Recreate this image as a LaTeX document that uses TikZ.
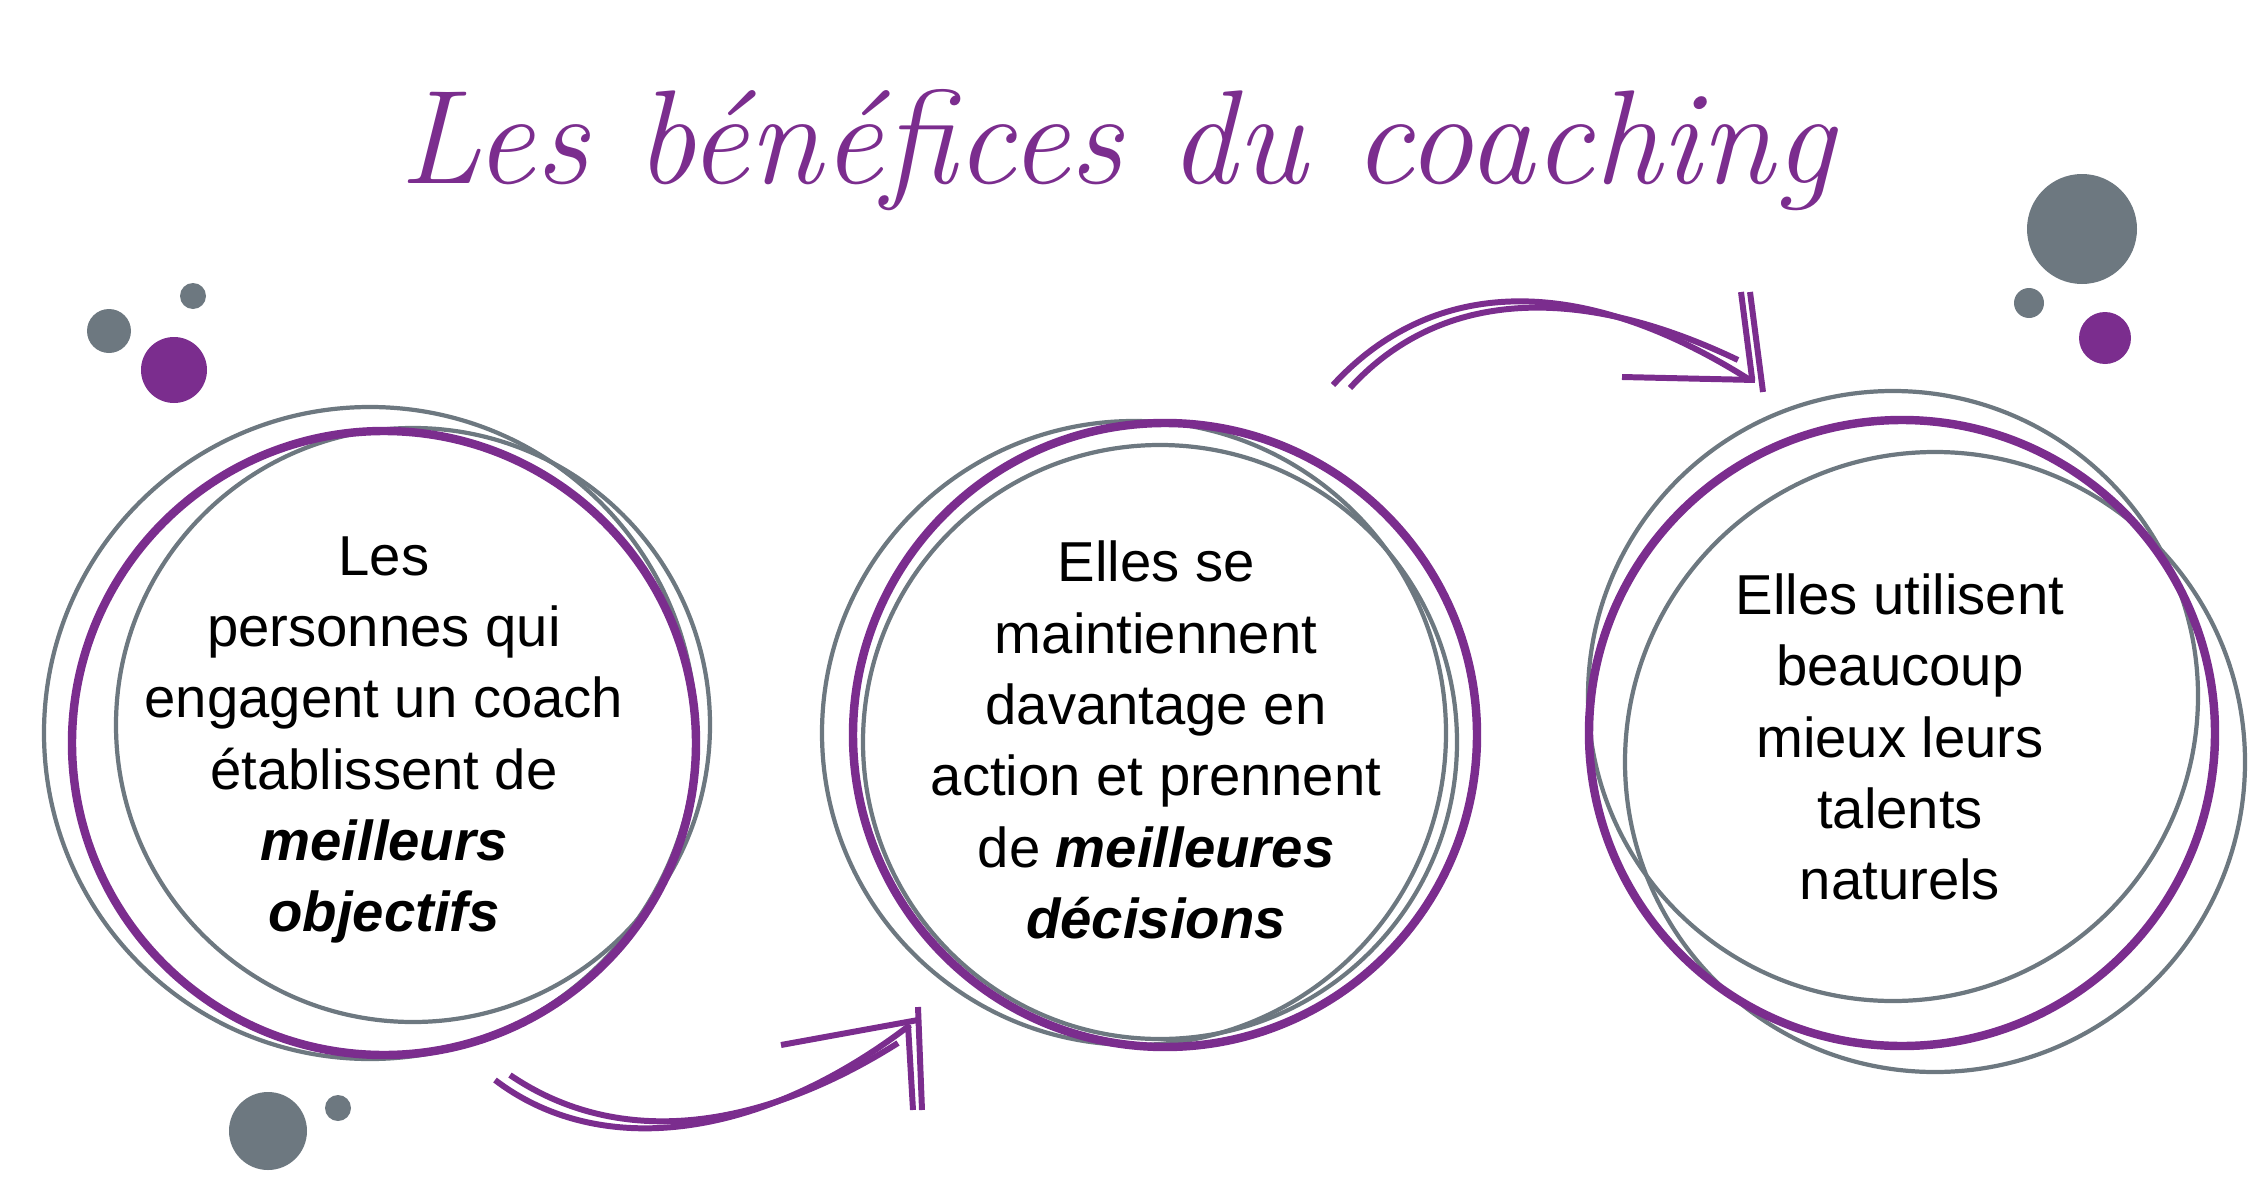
\documentclass[tikz,border=0pt]{standalone}
\usepackage{fontspec}
\setmainfont{Liberation Sans}
\newfontfamily\titlefont{Latin Modern Roman}
\definecolor{pur}{HTML}{7B2D8E}
\definecolor{gry}{HTML}{6D7880}
\begin{document}
\begin{tikzpicture}[x=0.01cm,y=-0.01cm,
  pc/.style={draw=pur,line width=2.4pt},
  gc/.style={draw=gry,line width=1.2pt},
  arr/.style={draw=pur,line width=1.7pt},
  txt/.style={align=center,font=\fontsize{16}{20.3}\selectfont},
  gdot/.style={fill=gry},pdot/.style={fill=pur}]
\useasboundingbox (0,0) rectangle (2263,1200);
\node[font=\titlefont\itshape\fontsize{38}{44}\selectfont,text=pur] (title) at (1117,150) {Les bénéfices du coaching};
% left
\draw[gc] (370,733) circle (326);
\draw[gc] (413,725) circle (297);
\draw[pc] (384,743) circle (312);
\node[txt] (t1) at (384,740) {Les\\personnes qui\\engagent un coach\\établissent de\\\textbf{\itshape meilleurs}\\\textbf{\itshape objectifs}};
% middle
\draw[gc] (1134,733) circle (312);
\draw[gc] (1160,742) circle (297);
\draw[pc] (1165,735) circle (312);
\node[txt] (t2) at (1156,740) {Elles se\\maintiennent\\davantage en\\action et prennent\\de \textbf{\itshape meilleures}\\\textbf{\itshape décisions}};
% right
\draw[gc] (1893,696) circle (305);
\draw[gc] (1935,762) circle (310);
\draw[pc] (1902,733) circle (313);
\node[txt] (t3) at (1900,737) {Elles utilisent\\beaucoup\\mieux leurs\\talents\\naturels};
% dots
\fill[gdot] (109,331) circle (22);
\fill[gdot] (193,296) circle (13);
\fill[pdot] (174,370) circle (33);
\fill[gdot] (268,1131) circle (39);
\fill[gdot] (338,1108) circle (13);
\fill[gdot] (2082,229) circle (55);
\fill[gdot] (2029,303) circle (15);
\fill[pdot] (2105,338) circle (26);
% bottom arrow
\draw[arr] (495,1080) .. controls (600,1160) and (760,1140) .. (910,1025);
\draw[arr] (510,1075) .. controls (620,1150) and (760,1130) .. (898,1043);
\draw[arr] (781,1045) -- (918,1020);
\draw[arr] (918,1007) -- (922,1110);
\draw[arr] (908,1025) -- (913,1110);
% top arrow
\draw[arr] (1333,385) .. controls (1420,290) and (1560,260) .. (1750,380);
\draw[arr] (1350,388) .. controls (1430,300) and (1560,275) .. (1738,360);
\draw[arr] (1622,377) -- (1755,380);
\draw[arr] (1741,292) -- (1752,378);
\draw[arr] (1750,292) -- (1763,392);
\end{tikzpicture}
\end{document}
